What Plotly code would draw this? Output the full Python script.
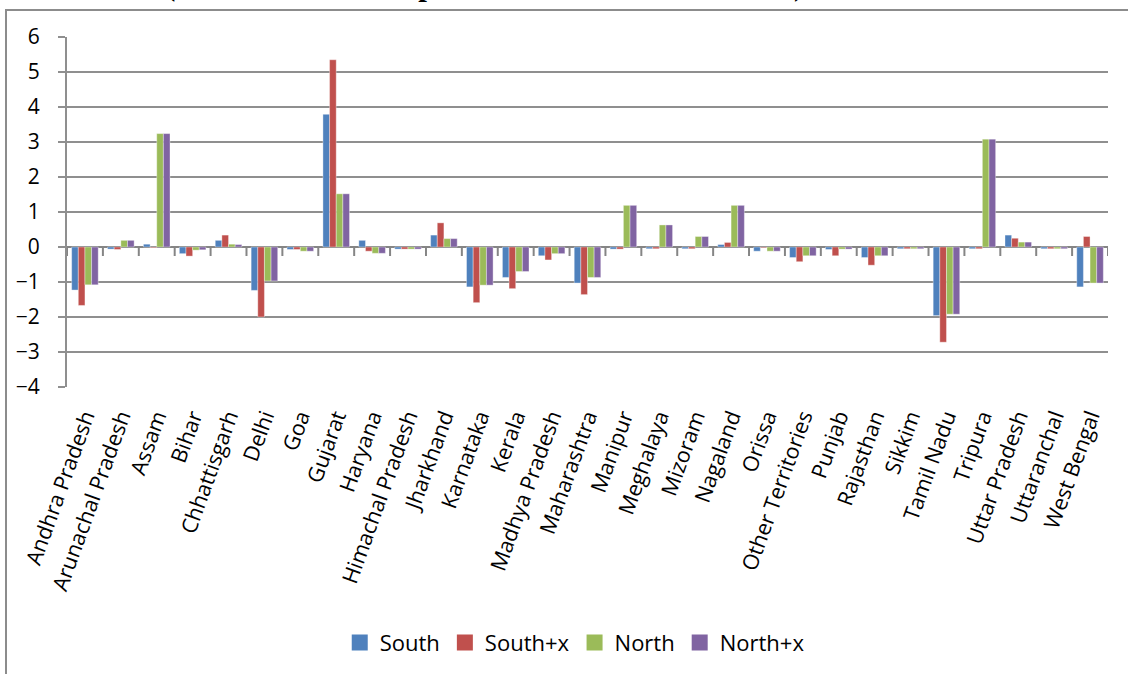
import plotly.graph_objects as go

# State-level index changes per scenario
states = ["Andhra Pradesh", "Arunachal Pradesh", "Assam", "Bihar", "Chhattisgarh",
          "Delhi", "Goa", "Gujarat", "Haryana", "Himachal Pradesh", "Jharkhand",
          "Karnataka", "Kerala", "Madhya Pradesh", "Maharashtra", "Manipur",
          "Meghalaya", "Mizoram", "Nagaland", "Orissa", "Other Territories",
          "Punjab", "Rajasthan", "Sikkim", "Tamil Nadu", "Tripura",
          "Uttar Pradesh", "Uttaranchal", "West Bengal"]

south = [-1.23, -0.06, 0.08, -0.19, 0.19, -1.24, -0.07, 3.79, 0.19, -0.06,
         0.34, -1.14, -0.87, -0.25, -1.03, -0.06, -0.05, -0.05, 0.07, -0.12,
         -0.30, -0.07, -0.30, -0.05, -1.96, -0.05, 0.34, -0.05, -1.14]
south_x = [-1.67, -0.07, -0.02, -0.26, 0.34, -2.00, -0.07, 5.35, -0.12, -0.06,
           0.69, -1.59, -1.19, -0.37, -1.36, -0.06, -0.05, -0.05, 0.13, -0.02,
           -0.42, -0.25, -0.52, -0.05, -2.72, -0.05, 0.25, -0.05, 0.30]
north = [-1.08, 0.19, 3.24, -0.09, 0.08, -0.97, -0.12, 1.52, -0.18, -0.06,
         0.24, -1.09, -0.70, -0.19, -0.87, 1.19, 0.63, 0.30, 1.19, -0.12,
         -0.25, -0.06, -0.25, -0.05, -1.92, 3.08, 0.14, -0.05, -1.03]
north_x = [-1.08, 0.19, 3.24, -0.08, 0.07, -0.97, -0.12, 1.52, -0.18, -0.06,
           0.24, -1.09, -0.70, -0.19, -0.87, 1.19, 0.63, 0.30, 1.19, -0.12,
           -0.25, -0.06, -0.25, -0.05, -1.92, 3.08, 0.14, -0.05, -1.03]

series_names = ["South", "South+x", "North", "North+x"]
series_values = [south, south_x, north, north_x]
series_colors = ["#4F81BD", "#C0504D", "#9BBB59", "#8064A2"]

title_text = "(Indices, 2030, compared with baseline scenario)"

FONT = "Open Sans, Calibri, sans-serif"
GRID = "#8f8f8f"

fig = go.Figure()
for name, vals, col in zip(series_names, series_values, series_colors):
    fig.add_trace(go.Bar(
        name=name, x=states, y=vals, legendgroup=name, showlegend=False,
        marker=dict(color=col, line=dict(color="rgba(255,255,255,0.6)", width=0.6)),
    ))
# legend keys drawn as square swatches
for name, col in zip(series_names, series_colors):
    fig.add_trace(go.Scatter(
        name=name, x=[states[0]], y=[None], legendgroup=name, mode="markers",
        marker=dict(symbol="square", size=16, color=col), hoverinfo="skip",
    ))

n = len(states)

# category-axis tick marks hanging below the zero line, between state groups
tick_marks = [dict(
    type="line", xref="x", yref="y", x0=i - 0.5, x1=i - 0.5,
    ysizemode="pixel", yanchor=0, y0=0, y1=-9,
    line=dict(color="#858585", width=2), layer="above",
) for i in range(n + 1)]

frame = dict(
    type="rect", xref="paper", yref="paper",
    x0=-0.0586, x1=1.03, y0=-0.84, y1=1.0768,
    line=dict(color="#8c8c8c", width=2), fillcolor="rgba(0,0,0,0)",
    layer="below",
)

fig.update_layout(
    width=1128, height=674,
    margin=dict(l=67, r=20, t=36.5, b=286),
    paper_bgcolor="white", plot_bgcolor="white",
    barmode="group", bargap=0.26, bargroupgap=0,
    font=dict(family=FONT, size=20, color="#000000"),
    showlegend=True,
    legend=dict(
        orientation="h", x=0.262, xanchor="left", y=-0.7255, yanchor="middle",
        font=dict(family=FONT, size=22, color="#000000"),
        itemwidth=30, traceorder="normal", itemsizing="trace",
    ),
    xaxis=dict(
        type="category", categoryorder="array", categoryarray=states,
        range=[-0.5, n - 0.5], showgrid=False, showline=False, zeroline=False,
        ticks="", tickangle=-70, ticklabelstandoff=12,
        tickfont=dict(family=FONT, size=21.5, color="#000000"),
    ),
    yaxis=dict(
        range=[-4, 6], dtick=1, tick0=0,
        showgrid=True, gridcolor=GRID, gridwidth=1.5,
        showline=True, linecolor=GRID, linewidth=2,
        ticks="outside", ticklen=7, tickwidth=2, tickcolor=GRID,
        zeroline=True, zerolinecolor="#858585", zerolinewidth=2,
        ticklabelstandoff=14,
        tickfont=dict(family=FONT, size=21, color="#000000"),
    ),
    shapes=[frame] + tick_marks,
    annotations=[dict(
        text="<b>" + title_text + "</b>", xref="paper", yref="paper",
        x=0.4015, y=1.151, xanchor="center", yanchor="middle", showarrow=False,
        font=dict(family="Liberation Serif, Times New Roman, serif", size=31,
                  color="#000000"),
    )],
)

fig.write_html("out.html")
